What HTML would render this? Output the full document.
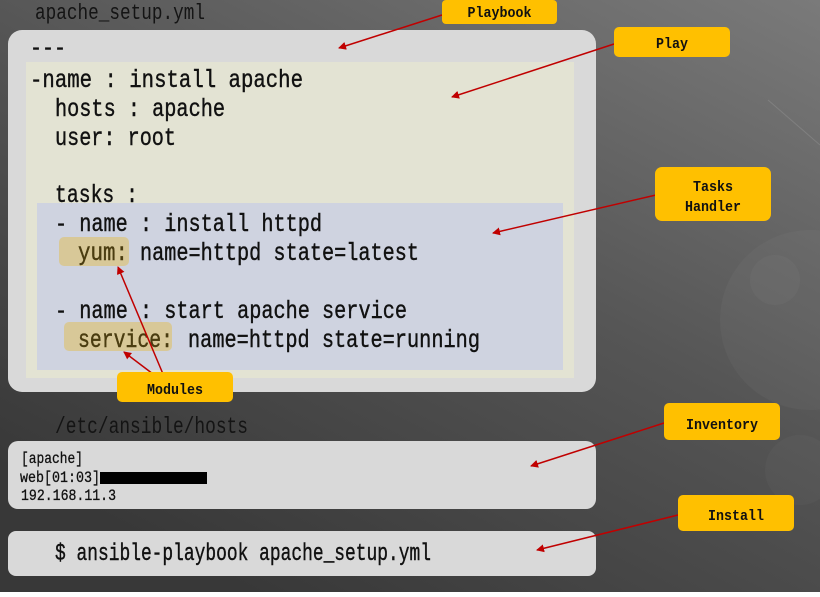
<!DOCTYPE html>
<html><head><meta charset="utf-8"><style>
html,body{margin:0;padding:0;}
body{width:820px;height:592px;overflow:hidden;}
svg text{font-family:"Liberation Mono",monospace;}
</style></head><body>
<svg width="820" height="592" xmlns="http://www.w3.org/2000/svg">
<defs>
<linearGradient id="bg" x1="1" y1="0" x2="0.3" y2="1">
<stop offset="0" stop-color="#7a7a7a"/><stop offset="0.5" stop-color="#555"/><stop offset="1" stop-color="#383838"/>
</linearGradient>
<marker id="ah" markerWidth="8" markerHeight="8" refX="7" refY="4" orient="auto" markerUnits="userSpaceOnUse">
<path d="M0,0 L8,4 L0,8 Z" fill="#c00000"/></marker>
</defs>
<rect width="820" height="592" fill="url(#bg)"/>
<circle cx="810" cy="320" r="90" fill="#ffffff" opacity="0.03"/>
<circle cx="775" cy="280" r="25" fill="#ffffff" opacity="0.03"/>
<circle cx="800" cy="470" r="35" fill="#ffffff" opacity="0.025"/>
<line x1="768" y1="100" x2="820" y2="145" stroke="#999" stroke-width="1" opacity="0.4"/>

<text x="35" y="19" font-size="22" fill="#141414" textLength="170" lengthAdjust="spacingAndGlyphs">apache_setup.yml</text>

<rect x="8" y="30" width="588" height="362" rx="14" fill="#d9d9d9"/>
<rect x="26" y="62" width="548" height="316" fill="#e3e3d3"/>
<rect x="37" y="203" width="526" height="167" fill="#cfd3e0"/>
<rect x="59" y="237" width="70" height="29" rx="5" fill="#d8c898"/>
<rect x="64" y="322" width="108" height="29" rx="5" fill="#d8c898"/>

<g font-size="25" fill="#111" stroke="#111" stroke-width="0.4">
<text x="30" y="55" textLength="36" lengthAdjust="spacingAndGlyphs">---</text>
<text x="30" y="87" textLength="273" lengthAdjust="spacingAndGlyphs">-name : install apache</text>
<text x="55" y="116" textLength="170" lengthAdjust="spacingAndGlyphs">hosts : apache</text>
<text x="55" y="145" textLength="121" lengthAdjust="spacingAndGlyphs">user: root</text>
<text x="55" y="202" textLength="83" lengthAdjust="spacingAndGlyphs">tasks :</text>
<text x="55" y="231" textLength="267" lengthAdjust="spacingAndGlyphs">- name : install httpd</text>
<text x="78" y="260" textLength="50" lengthAdjust="spacingAndGlyphs" fill="#4a3c10" stroke="#4a3c10">yum:</text>
<text x="140" y="260" textLength="279" lengthAdjust="spacingAndGlyphs">name=httpd state=latest</text>
<text x="55" y="318" textLength="352" lengthAdjust="spacingAndGlyphs">- name : start apache service</text>
<text x="78" y="347" textLength="95" lengthAdjust="spacingAndGlyphs" fill="#4a3c10" stroke="#4a3c10">service:</text>
<text x="188" y="347" textLength="292" lengthAdjust="spacingAndGlyphs">name=httpd state=running</text>
</g>

<text x="55" y="433" font-size="23" fill="#141414" textLength="193" lengthAdjust="spacingAndGlyphs">/etc/ansible/hosts</text>
<rect x="8" y="441" width="588" height="68" rx="10" fill="#d9d9d9"/>
<g font-size="16" fill="#111" stroke="#111" stroke-width="0.3">
<text x="21" y="463" textLength="62" lengthAdjust="spacingAndGlyphs">[apache]</text>
<text x="20" y="482" textLength="80" lengthAdjust="spacingAndGlyphs">web[01:03]</text>
<text x="21" y="500" textLength="95" lengthAdjust="spacingAndGlyphs">192.168.11.3</text>
</g>
<rect x="100" y="472" width="107" height="12" fill="#000"/>

<rect x="8" y="531" width="588" height="45" rx="8" fill="#d9d9d9"/>
<text x="55" y="560" font-size="24" fill="#111" stroke="#111" stroke-width="0.4" textLength="376" lengthAdjust="spacingAndGlyphs">$ ansible-playbook apache_setup.yml</text>

<g stroke="#c00000" stroke-width="1.5" marker-end="url(#ah)">
<line x1="442" y1="15" x2="339" y2="48"/>
<line x1="614" y1="44" x2="452" y2="97"/>
<line x1="656" y1="195" x2="493" y2="233"/>
<line x1="163" y1="374" x2="118" y2="267"/>
<line x1="153" y1="374" x2="124" y2="352"/>
<line x1="664" y1="423" x2="531" y2="466"/>
<line x1="678" y1="515" x2="537" y2="550"/>
</g>

<g fill="#111">
<rect x="442" y="0" width="115" height="24" rx="4" fill="#ffc000"/>
<text x="499.5" y="17" font-size="15" font-weight="bold" text-anchor="middle" textLength="64" lengthAdjust="spacingAndGlyphs">Playbook</text>
<rect x="614" y="27" width="116" height="30" rx="5" fill="#ffc000"/>
<text x="672" y="48" font-size="15" font-weight="bold" text-anchor="middle" textLength="32" lengthAdjust="spacingAndGlyphs">Play</text>
<rect x="655" y="167" width="116" height="54" rx="7" fill="#ffc000"/>
<text x="713" y="191" font-size="15" font-weight="bold" text-anchor="middle" textLength="40" lengthAdjust="spacingAndGlyphs">Tasks</text>
<text x="713" y="211" font-size="15" font-weight="bold" text-anchor="middle" textLength="56" lengthAdjust="spacingAndGlyphs">Handler</text>
<rect x="117" y="372" width="116" height="30" rx="5" fill="#ffc000"/>
<text x="175" y="394" font-size="15" font-weight="bold" text-anchor="middle" textLength="56" lengthAdjust="spacingAndGlyphs">Modules</text>
<rect x="664" y="403" width="116" height="37" rx="5" fill="#ffc000"/>
<text x="722" y="429" font-size="15" font-weight="bold" text-anchor="middle" textLength="72" lengthAdjust="spacingAndGlyphs">Inventory</text>
<rect x="678" y="495" width="116" height="36" rx="5" fill="#ffc000"/>
<text x="736" y="520" font-size="15" font-weight="bold" text-anchor="middle" textLength="56" lengthAdjust="spacingAndGlyphs">Install</text>
</g>
</svg>
</body></html>
